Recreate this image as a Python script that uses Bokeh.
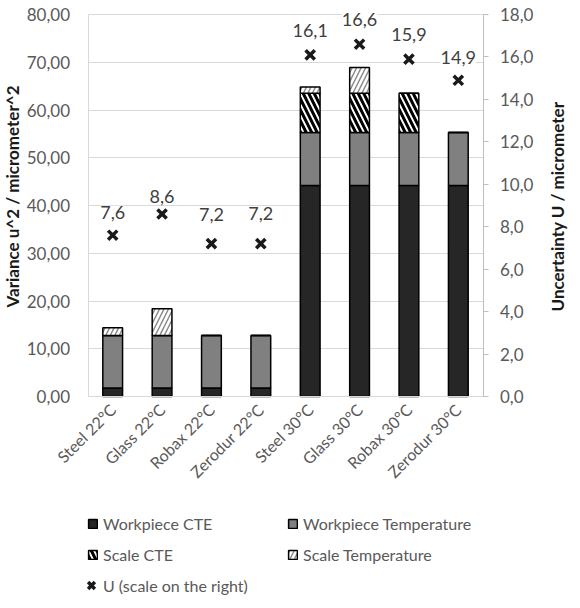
import math
from bokeh.plotting import figure
from bokeh.models import (ColumnDataSource, Range1d, FactorRange, LinearAxis, Legend, LegendItem,
                          LabelSet, Label, CustomJSTickFormatter, SingleIntervalTicker)
from bokeh.core.properties import value
from bokeh.embed import file_html
from bokeh.resources import INLINE

categories = ["Steel 22°C", "Glass 22°C", "Robax 22°C", "Zerodur 22°C",
              "Steel 30°C", "Glass 30°C", "Robax 30°C", "Zerodur 30°C"]
workpiece_cte = [1.8, 1.8, 1.8, 1.8, 44.2, 44.2, 44.2, 44.2]
workpiece_temp = [11.0, 11.0, 11.0, 11.0, 11.1, 11.1, 11.1, 11.1]
scale_cte = [0.0, 0.0, 0.0, 0.0, 8.2, 8.2, 8.2, 0.0]
scale_temp = [1.6, 5.6, 0.0, 0.0, 1.3, 5.4, 0.0, 0.0]
u_values = [7.6, 8.6, 7.2, 7.2, 16.1, 16.6, 15.9, 14.9]
u_labels = [f"{v:.1f}".replace(".", ",") for v in u_values]
# pixel offsets of the data labels above their markers (label placement, style only)
label_dy = [23, 17, 29, 30, 24, 25, 25, 23]

LEFT_MAX, RIGHT_MAX = 80, 18
FONT = "Lato"
GREY_TXT = "#595959"

# ---- layout in pixels: the frame fills the whole canvas, axes sit at fixed places ----
W, H = 570, 598
PX_TOP, PX_ZERO = 14, 396          # canvas rows of the axis maximum and of zero
AREA_W = 395                       # width of the category area
u_left = (PX_ZERO - PX_TOP) / LEFT_MAX
u_right = (PX_ZERO - PX_TOP) / RIGHT_MAX
pad = (W - AREA_W) / (AREA_W / len(categories)) / 2   # padding applied on each side

src = ColumnDataSource(dict(cat=categories, wcte=workpiece_cte, wtemp=workpiece_temp,
                            scte=scale_cte, stemp=scale_temp, u=u_values, ulab=u_labels,
                            dy=label_dy))

p = figure(x_range=FactorRange(factors=categories, range_padding=pad, range_padding_units="absolute"),
           y_range=Range1d(-(H - PX_ZERO) / u_left, LEFT_MAX + PX_TOP / u_left),
           frame_width=W, frame_height=H,
           min_border_left=0, min_border_top=0, min_border_bottom=0, min_border_right=0,
           output_backend="svg", toolbar_location=None)
p.extra_y_ranges = {"u": Range1d(-(H - PX_ZERO) / u_right, RIGHT_MAX + PX_TOP / u_right)}
p.outline_line_color = None
p.background_fill_color = "white"
p.border_fill_color = "white"

# left axis
ya = p.yaxis[0]
ya.fixed_location = 0
ya.bounds = (0, LEFT_MAX)
ya.ticker = SingleIntervalTicker(interval=10)
ya.formatter = CustomJSTickFormatter(code="return tick.toFixed(2).replace('.', ',');")
ya.axis_line_color = "#d9d9d9"
ya.major_tick_line_color = None
ya.minor_tick_line_color = None
ya.major_tick_out = 0
ya.major_label_standoff = 14
ya.major_label_text_font = FONT
ya.major_label_text_font_size = "17px"
ya.major_label_text_color = GREY_TXT

# right axis
ra = LinearAxis(y_range_name="u", ticker=SingleIntervalTicker(interval=2),
                bounds=(0, RIGHT_MAX), fixed_location=len(categories))
ra.formatter = CustomJSTickFormatter(code="return tick.toFixed(1).replace('.', ',');")
ra.axis_line_color = "#bfbfbf"
ra.major_tick_line_color = "#bfbfbf"
ra.minor_tick_line_color = None
ra.major_tick_in = 0
ra.major_tick_out = 5
ra.major_label_standoff = 12
ra.major_label_text_font = FONT
ra.major_label_text_font_size = "17px"
ra.major_label_text_color = GREY_TXT
p.add_layout(ra, "right")

# x axis, drawn at value 0
xa = p.xaxis[0]
xa.fixed_location = 0
xa.bounds = (0, len(categories))
xa.major_label_orientation = math.pi / 4
xa.axis_line_color = "#d9d9d9"
xa.major_tick_line_color = None
xa.minor_tick_line_color = None
xa.major_tick_out = 0
xa.major_label_standoff = 10
xa.major_label_text_font = FONT
xa.major_label_text_font_size = "16px"
xa.major_label_text_color = GREY_TXT

p.xgrid.visible = False
p.ygrid.grid_line_color = "#d9d9d9"
p.ygrid.grid_line_width = 1
p.ygrid.bounds = (0, LEFT_MAX)
if "cross_bounds" in p.ygrid.properties():
    p.ygrid.cross_bounds = (0, len(categories))

# axis titles
title_style = dict(x_units="screen", y_units="screen", angle=math.pi / 2,
                   text_align="center", text_baseline="middle", text_font=FONT,
                   text_font_style="bold", text_font_size="17px", text_color="#1a1a1a")
p.add_layout(Label(x=12, y=402, text="Variance u^2 / micrometer^2", **title_style))
p.add_layout(Label(x=557, y=392, text="Uncertainty U / micrometer", **title_style))

bars = p.vbar_stack(["wcte", "wtemp", "scte", "stemp"], x="cat", width=0.4, source=src,
                    fill_color=["#262626", "#808080", "white", "white"],
                    line_color="black", line_width=1.5,
                    hatch_pattern=[" ", " ", "\\", "/"],
                    hatch_color=["black", "black", "black", "#8c8c8c"],
                    hatch_weight=[1, 1, 3, 1.5],
                    hatch_scale=[8, 8, 11, 9])

sc = p.scatter("cat", "u", source=src, y_range_name="u", marker="x", size=13,
               line_width=3.5, line_color="#1a1a1a")

labels = LabelSet(x="cat", y="u", text="ulab", source=src, y_range_name="u",
                  y_offset="dy", text_align="center", text_baseline="middle",
                  text_font=value(FONT), text_font_size="18px", text_color="#404040",
                  background_fill_color="white")
p.add_layout(labels)

common = dict(background_fill_alpha=0, border_line_color=None, padding=0, margin=0,
              spacing=11, label_height=20, glyph_height=11, glyph_width=11,
              label_standoff=5, label_text_font=FONT, label_text_font_size="16px",
              label_text_color=GREY_TXT)
legA = Legend(items=[LegendItem(label="Workpiece CTE", renderers=[bars[0]]),
                     LegendItem(label="Scale CTE", renderers=[bars[2]])],
              location=(87, 34), **common)
legB = Legend(items=[LegendItem(label="Workpiece Temperature", renderers=[bars[1]]),
                     LegendItem(label="Scale Temperature", renderers=[bars[3]])],
              location=(287, 34), **common)
common_u = dict(common, glyph_width=24, glyph_height=26, label_standoff=0)
legC = Legend(items=[LegendItem(label="U (scale on the right)", renderers=[sc])],
              location=(79, 0), **common_u)
p.add_layout(legA)
p.add_layout(legB)
p.add_layout(legC)

open("out.html", "w").write(file_html(p, INLINE))
